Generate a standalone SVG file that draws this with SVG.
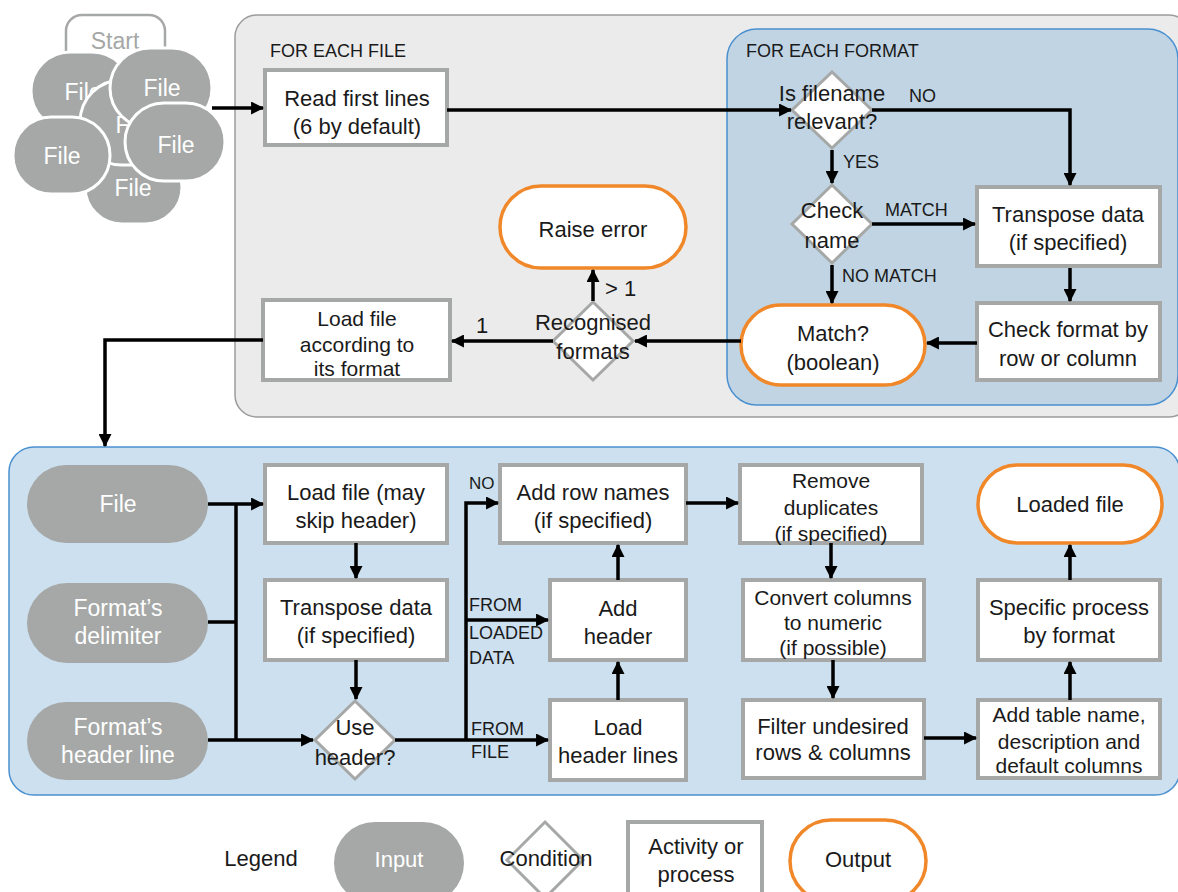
<svg xmlns="http://www.w3.org/2000/svg" width="1178" height="892" viewBox="0 0 1178 892">
<defs>
<style>
text{font-family:"Liberation Sans",Arial,sans-serif;fill:#1a1a1a;text-anchor:middle}
.t{font-size:22px}
.s{font-size:21px}
.i{font-size:23px}
.lb{font-size:18px;text-anchor:start}
.hd{font-size:18px;text-anchor:start}
.w{fill:#ffffff}
.act{fill:#ffffff;stroke:#a5a8a6;stroke-width:4}
.cond{fill:#ffffff;stroke:#a5a8a6;stroke-width:3}
.out{fill:#ffffff;stroke:#f0882a;stroke-width:3.5}
.inp{fill:#a5a8a6}
.file{fill:#a5a8a6;stroke:#ffffff;stroke-width:3}
.c{fill:none;stroke:#000;stroke-width:3.5}
.ca{fill:none;stroke:#000;stroke-width:3.5;marker-end:url(#ah)}
</style>
<marker id="ah" viewBox="0 0 12 12" refX="11" refY="6" markerWidth="13" markerHeight="13" markerUnits="userSpaceOnUse" orient="auto">
<path d="M0,0 L12,6 L0,12 z" fill="#000"/>
</marker>
</defs>

<!-- containers -->
<g id="container-file">
<rect x="235" y="15" width="956" height="402" rx="22" fill="#ebebeb" stroke="#9c9c9c" stroke-width="1.5"/>
<text class="hd" x="270" y="57">FOR EACH FILE</text>
</g>
<g id="container-format">
<rect x="727" y="29" width="451" height="376" rx="30" fill="#c0d4e3" stroke="#4a90d0" stroke-width="1.5"/>
<text class="hd" x="746" y="57">FOR EACH FORMAT</text>
</g>
<g id="container-load">
<rect x="9" y="447" width="1171" height="348" rx="25" fill="#cde0ef" stroke="#4a90d0" stroke-width="1.5"/>
</g>

<!-- start cluster -->
<g id="start">
<rect x="66" y="15" width="99" height="70" rx="16" fill="#ffffff" stroke="#a5a8a6" stroke-width="2.5"/>
<text class="i" x="115" y="49" style="fill:#a5a8a6">Start</text>
</g>
<g id="file-tl">
<rect class="file" x="31" y="52" width="100" height="78" rx="39"/>
<text class="i" x="83" y="100" style="fill:#fff">File</text>
</g>
<g id="file-b">
<rect class="file" x="85" y="150" width="97" height="74" rx="37"/>
<text class="i" x="133" y="196" style="fill:#fff">File</text>
</g>
<g id="file-c">
<rect class="file" x="80" y="80" width="105" height="85" rx="42"/>
<text class="i" x="134" y="133" style="fill:#fff">File</text>
</g>
<g id="file-tr">
<rect class="file" x="110" y="48" width="102" height="80" rx="40"/>
<text class="i" x="162" y="96" style="fill:#fff">File</text>
</g>
<g id="file-bl">
<rect class="file" x="13" y="117" width="97" height="77" rx="38"/>
<text class="i" x="62" y="164" style="fill:#fff">File</text>
</g>
<g id="file-r">
<rect class="file" x="125" y="103" width="100" height="78" rx="39"/>
<text class="i" x="176" y="153" style="fill:#fff">File</text>
</g>

<!-- top section nodes -->
<g id="read-first-lines">
<rect class="act" x="265" y="70" width="182" height="75"/>
<text class="t" x="357" y="106">Read first lines</text>
<text class="t" x="357" y="134">(6 by default)</text>
</g>
<g id="is-filename-relevant">
<polygon class="cond" points="832,72 872,110 832,148 792,110"/>
<text class="t" x="832" y="101">Is filename</text>
<text class="t" x="832" y="129">relevant?</text>
</g>
<g id="check-name">
<polygon class="cond" points="832,185 872,224 832,263 792,224"/>
<text class="t" x="832" y="218">Check</text>
<text class="t" x="832" y="248">name</text>
</g>
<g id="transpose-top">
<rect class="act" x="977" y="187" width="183" height="79"/>
<text class="t" x="1068" y="222">Transpose data</text>
<text class="t" x="1068" y="250">(if specified)</text>
</g>
<g id="check-format">
<rect class="act" x="977" y="303" width="183" height="77"/>
<text class="t" x="1068" y="337">Check format by</text>
<text class="t" x="1068" y="366">row or column</text>
</g>
<g id="match">
<rect class="out" x="741" y="305" width="184" height="80" rx="40"/>
<text class="t" x="833" y="341">Match?</text>
<text class="t" x="833" y="370">(boolean)</text>
</g>
<g id="recognised-formats">
<polygon class="cond" points="593,302 633,341 593,380 553,341"/>
<text class="t" x="593" y="330">Recognised</text>
<text class="t" x="593" y="359">formats</text>
</g>
<g id="raise-error">
<rect class="out" x="500" y="186" width="186" height="82" rx="41"/>
<text class="t" x="593" y="237">Raise error</text>
</g>
<g id="load-by-format">
<rect class="act" x="263" y="300" width="187" height="80"/>
<text class="s" x="357" y="326">Load file</text>
<text class="s" x="357" y="352">according to</text>
<text class="s" x="357" y="376">its format</text>
</g>

<!-- bottom section nodes -->
<g id="in-file">
<rect class="inp" x="27" y="465" width="181" height="78" rx="39"/>
<text class="i" x="118" y="512" style="fill:#fff">File</text>
</g>
<g id="in-delimiter">
<rect class="inp" x="27" y="583" width="181" height="80" rx="40"/>
<text class="i" x="118" y="616" style="fill:#fff">Format’s</text>
<text class="i" x="118" y="644" style="fill:#fff">delimiter</text>
</g>
<g id="in-header-line">
<rect class="inp" x="27" y="702" width="181" height="78" rx="39"/>
<text class="i" x="118" y="735" style="fill:#fff">Format’s</text>
<text class="i" x="118" y="763" style="fill:#fff">header line</text>
</g>
<g id="load-file-skip">
<rect class="act" x="265" y="465" width="182" height="78"/>
<text class="t" x="356" y="500">Load file (may</text>
<text class="t" x="356" y="528">skip header)</text>
</g>
<g id="transpose-bottom">
<rect class="act" x="265" y="580" width="182" height="80"/>
<text class="t" x="356" y="615">Transpose data</text>
<text class="t" x="356" y="643">(if specified)</text>
</g>
<g id="use-header">
<polygon class="cond" points="355,701 395,740 355,779 315,740"/>
<text class="t" x="355" y="735">Use</text>
<text class="t" x="355" y="765">header?</text>
</g>
<g id="add-row-names">
<rect class="act" x="500" y="465" width="186" height="78"/>
<text class="t" x="593" y="500">Add row names</text>
<text class="t" x="593" y="528">(if specified)</text>
</g>
<g id="add-header">
<rect class="act" x="550" y="580" width="136" height="80"/>
<text class="t" x="618" y="616">Add</text>
<text class="t" x="618" y="644">header</text>
</g>
<g id="load-header-lines">
<rect class="act" x="550" y="700" width="136" height="80"/>
<text class="t" x="618" y="735">Load</text>
<text class="t" x="618" y="763">header lines</text>
</g>
<g id="remove-duplicates">
<rect class="act" x="740" y="465" width="182" height="78"/>
<text class="s" x="831" y="488">Remove</text>
<text class="s" x="831" y="515">duplicates</text>
<text class="s" x="831" y="541">(if specified)</text>
</g>
<g id="convert-columns">
<rect class="act" x="743" y="580" width="181" height="80"/>
<text class="s" x="833" y="605">Convert columns</text>
<text class="s" x="833" y="630">to numeric</text>
<text class="s" x="833" y="655">(if possible)</text>
</g>
<g id="filter-undesired">
<rect class="act" x="743" y="700" width="181" height="78"/>
<text class="t" x="833" y="734">Filter undesired</text>
<text class="t" x="833" y="760">rows &amp; columns</text>
</g>
<g id="add-table-name">
<rect class="act" x="978" y="700" width="182" height="78"/>
<text class="s" x="1069" y="722">Add table name,</text>
<text class="s" x="1069" y="749">description and</text>
<text class="s" x="1069" y="773">default columns</text>
</g>
<g id="specific-process">
<rect class="act" x="978" y="580" width="182" height="80"/>
<text class="t" x="1069" y="615">Specific process</text>
<text class="t" x="1069" y="643">by format</text>
</g>
<g id="loaded-file">
<rect class="out" x="978" y="465" width="184" height="78" rx="39"/>
<text class="t" x="1070" y="512">Loaded file</text>
</g>

<!-- connectors -->
<g id="connectors">
<path class="ca" d="M212,108 H263"/>
<path class="ca" d="M447,110 H791"/>
<path class="ca" d="M872,110 H1070 V185"/>
<path class="ca" d="M832,150 V183"/>
<path class="ca" d="M872,224 H975"/>
<path class="ca" d="M832,265 V303"/>
<path class="ca" d="M1070,268 V301"/>
<path class="ca" d="M977,343 H927"/>
<path class="ca" d="M741,341 H635"/>
<path class="ca" d="M593,301 V270"/>
<path class="ca" d="M553,341 H452"/>
<path class="ca" d="M263,340 H105 V446"/>
<text class="lb" x="909" y="102">NO</text>
<text class="lb" x="843" y="168">YES</text>
<text class="lb" x="885" y="216">MATCH</text>
<text class="lb" x="842" y="282">NO MATCH</text>
<text class="lb" x="605" y="296" style="font-size:22px">&gt; 1</text>
<text class="lb" x="476" y="333" style="font-size:22px">1</text>

<path class="ca" d="M208,504 H263"/>
<path class="c" d="M208,622 H236"/>
<path class="c" d="M236,504 V740"/>
<path class="ca" d="M208,740 H313"/>
<path class="ca" d="M356,543 V578"/>
<path class="ca" d="M356,660 V699"/>
<path class="ca" d="M395,740 H548"/>
<path class="ca" d="M466,740 V503 H498"/>
<path class="ca" d="M466,620 H548"/>
<path class="ca" d="M618,700 V662"/>
<path class="ca" d="M618,580 V545"/>
<path class="ca" d="M686,503 H738"/>
<path class="ca" d="M831,543 V578"/>
<path class="ca" d="M833,660 V698"/>
<path class="ca" d="M924,738 H976"/>
<path class="ca" d="M1070,700 V662"/>
<path class="ca" d="M1070,580 V545"/>
<text class="lb" x="469" y="489" style="font-size:17px">NO</text>
<text class="lb" x="469" y="611">FROM</text>
<text class="lb" x="469" y="639">LOADED</text>
<text class="lb" x="469" y="664">DATA</text>
<text class="lb" x="471" y="735">FROM</text>
<text class="lb" x="471" y="758">FILE</text>
</g>

<!-- legend -->
<g id="legend">
<text class="t" x="261" y="866">Legend</text>
<rect class="inp" x="334" y="822" width="130" height="82" rx="41"/>
<text class="t w" x="399" y="867" style="fill:#fff">Input</text>
<polygon class="cond" points="545,822 583,860 545,898 507,860"/>
<text class="t" x="546" y="866">Condition</text>
<rect class="act" x="628" y="822" width="134" height="82"/>
<text class="t" x="696" y="854">Activity or</text>
<text class="t" x="696" y="882">process</text>
<rect class="out" x="790" y="820" width="136" height="82" rx="41"/>
<text class="t" x="858" y="867">Output</text>
</g>
</svg>
